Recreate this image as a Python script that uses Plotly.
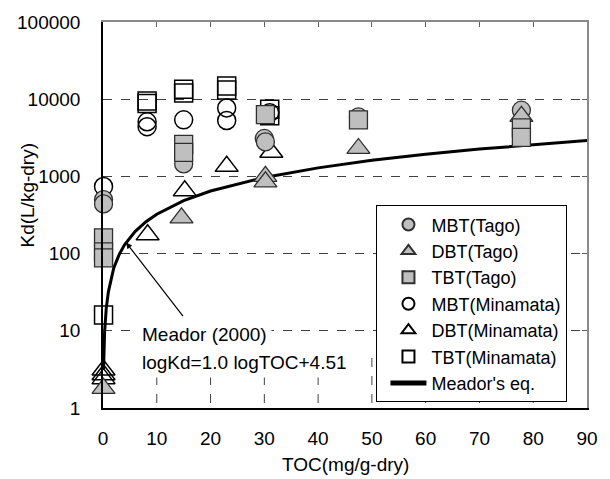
import plotly.graph_objects as go
import math

# ---------------- data ----------------
mbt_tago_x = [0.1, 0.1, 15, 30, 30.2, 47.5, 77.8]
mbt_tago_y = [500, 440, 1450, 3100, 2800, 5900, 7200]

dbt_tago_x = [0.1, 14.6, 30.2, 30.2, 47.5, 77.8]
dbt_tago_y = [1.8, 290, 1000, 850, 2300, 6000]

tbt_tago_x = [0.1, 0.1, 0.1, 15, 15, 30.2, 47.5, 77.8, 77.8]
tbt_tago_y = [160, 105, 88, 2600, 2050, 6300, 5400, 4250, 3200]

mbt_mina_x = [0.1, 8.2, 8.2, 15, 23, 23, 31]
mbt_mina_y = [740, 5100, 4400, 5400, 7700, 5300, 6700]

dbt_mina_x = [0.1, 0.1, 0.1, 8.3, 15.2, 23, 31.3]
dbt_mina_y = [3.1, 2.7, 2.4, 175, 650, 1350, 2050]

tbt_mina_x = [0.1, 8.2, 8.2, 15, 15, 23, 23, 31, 31]
tbt_mina_y = [16, 9500, 8800, 13500, 12000, 14800, 13200, 7400, 6100]

meador_x = [0.1, 0.3, 0.6, 1, 2, 3, 4, 6, 8, 10, 15, 20, 30, 40, 50, 60, 70, 80, 90]
meador_y = [3.2, 9.7, 19.4, 32, 65, 97, 130, 194, 259, 324, 485, 647, 970, 1290, 1620, 1940, 2260, 2590, 2910]

x_ticks = [0, 10, 20, 30, 40, 50, 60, 70, 80, 90]
y_ticks = [1, 10, 100, 1000, 10000, 100000]
y_ticktext = ["1", "10", "100", "1000", "10000", "100000"]

# ---------------- style ----------------
FONT = "Liberation Sans, Arial, sans-serif"
FS = 19
GRAY = "#bfbfbf"
EDGE = "#303030"
MS = 18
TS = 20
CLEAR = "rgba(0,0,0,0)"
GRID = "#404040"

fig = go.Figure()

fig.add_trace(go.Scatter(x=meador_x, y=meador_y, mode="lines", name="Meador's eq.",
                         line=dict(color="black", width=3), legendrank=7,
                         cliponaxis=False))

def filled(x, y, name, sym, size, rank):
    fig.add_trace(go.Scatter(x=x, y=y, mode="markers", name=name, legendrank=rank,
                             cliponaxis=False,
                             marker=dict(symbol=sym, size=size, color=GRAY,
                                         line=dict(color=EDGE, width=1.3))))

def hollow(x, y, name, sym, size, rank):
    fig.add_trace(go.Scatter(x=x, y=y, mode="markers", name=name, legendrank=rank,
                             cliponaxis=False,
                             marker=dict(symbol=sym + "-open", size=size, color="black",
                                         line=dict(color="black", width=1.5))))

hollow(mbt_mina_x, mbt_mina_y, "MBT(Minamata)", "circle", MS, 4)
hollow(tbt_mina_x, tbt_mina_y, "TBT(Minamata)", "square", MS, 6)
hollow(dbt_mina_x, dbt_mina_y, "DBT(Minamata)", "triangle-up", TS, 5)
filled(mbt_tago_x, mbt_tago_y, "MBT(Tago)", "circle", MS, 1)
filled(dbt_tago_x, dbt_tago_y, "DBT(Tago)", "triangle-up", TS, 2)
filled(tbt_tago_x, tbt_tago_y, "TBT(Tago)", "square", MS, 3)

# invisible trace holding the mirrored top/right frame axes
fig.add_trace(go.Scatter(x=[0], y=[1], xaxis="x2", yaxis="y2", mode="markers",
                         marker=dict(opacity=0), showlegend=False, hoverinfo="skip"))

# vertical dashed grid lines placed through the x / y axis scales (log axis -> log10)
ylo = math.log10(y_ticks[0])
yhi = math.log10(y_ticks[-1])
for v in x_ticks[1:-1]:
    fig.add_shape(type="line", xref="x", yref="y", x0=v, x1=v, y0=ylo, y1=yhi,
                  line=dict(color=GRID, width=1, dash="dash"), layer="below")

axis_font = dict(family=FONT, size=FS, color="black")

fig.update_layout(
    width=610, height=479,
    margin=dict(l=103, r=22, t=14, b=71),
    paper_bgcolor="white", plot_bgcolor=CLEAR,
    font=axis_font,
    showlegend=True,
    legend=dict(x=0.565, y=0.525, xanchor="left", yanchor="top",
                bgcolor="white", bordercolor="black", borderwidth=1,
                font=dict(family=FONT, size=18, color="black"),
                itemsizing="constant", traceorder="normal", indentation=8,
                itemwidth=36),
    xaxis=dict(range=[0, 90], tickmode="linear", tick0=0, dtick=10,
               showgrid=False, showline=True, linecolor="black",
               linewidth=1.5, ticks="outside", ticklen=12, tickcolor=CLEAR,
               zeroline=False, tickfont=axis_font),
    yaxis=dict(type="log", range=[0, 5], tickvals=y_ticks, ticktext=y_ticktext,
               showgrid=True, gridcolor=GRID, griddash="dash", gridwidth=1,
               showline=True, linecolor="black", linewidth=1.5, ticks="outside",
               ticklen=17, tickcolor=CLEAR, zeroline=False, tickfont=axis_font),
    xaxis2=dict(range=[0, 90], tickmode="linear", tick0=0, dtick=10, overlaying="x",
                side="top", showgrid=False, showline=True, linecolor="#8a8a8a",
                linewidth=1.5, ticks="inside", ticklen=5, tickcolor="#606060",
                showticklabels=False, zeroline=False),
    yaxis2=dict(type="log", range=[0, 5], tickvals=y_ticks, overlaying="y", side="right",
                showgrid=False, showline=True, linecolor="#8a8a8a", linewidth=1.5,
                ticks="inside", ticklen=5, tickcolor="#606060", showticklabels=False,
                zeroline=False),
    annotations=[
        dict(text="Kd(L/kg-dry)", xref="paper", yref="paper", x=-0.155, y=0.553,
             textangle=-90, showarrow=False, font=dict(family=FONT, size=FS, color="black"),
             xanchor="center", yanchor="middle"),
        dict(text="TOC(mg/g-dry)", xref="paper", yref="paper", x=0.5, y=-0.147,
             showarrow=False, font=dict(family=FONT, size=FS, color="black"),
             xanchor="center", yanchor="middle"),
        dict(text="Meador (2000)", xref="x", yref="y", x=6.3, y=math.log10(8.95),
             xanchor="left", yanchor="middle", showarrow=False, bgcolor="white",
             borderpad=4, font=dict(family=FONT, size=FS, color="black")),
        dict(text="logKd=1.0 logTOC+4.51", xref="x", yref="y", x=6.3, y=math.log10(3.85),
             xanchor="left", yanchor="middle", showarrow=False, bgcolor="white",
             borderpad=4, font=dict(family=FONT, size=FS, color="black")),
        dict(text="", xref="x", yref="y", x=4.3, y=math.log10(139),
             ax=58, ay=75, showarrow=True, arrowhead=2, arrowsize=1, arrowwidth=1.2,
             arrowcolor="black", standoff=0),
    ],
)

fig.write_html("out.html")
